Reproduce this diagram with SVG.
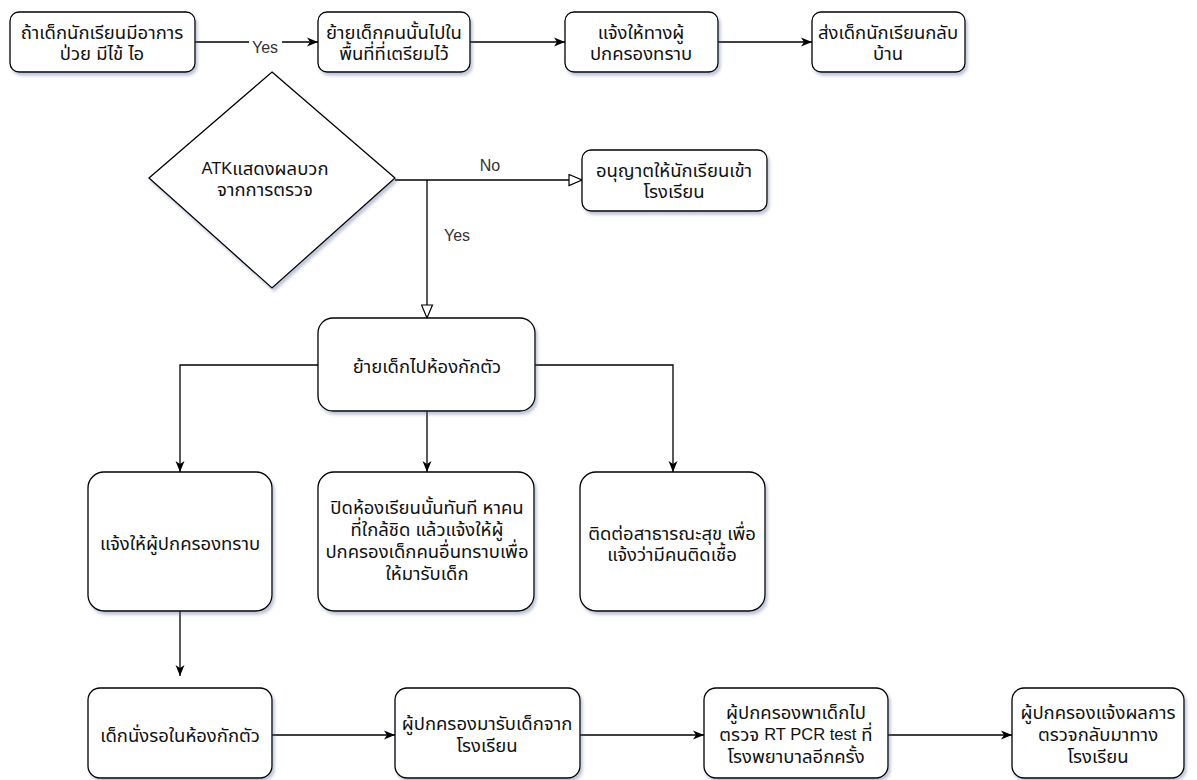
<svg xmlns="http://www.w3.org/2000/svg" width="1197" height="780" viewBox="0 0 1197 780">
<style>
.box{fill:#fff;stroke:#000;stroke-width:1.3;filter:url(#sh)}
.t{font-family:"Liberation Sans","Noto Sans Thai","Noto Sans",sans-serif;font-size:18.5px;fill:#111;text-anchor:middle;dominant-baseline:central}
.lat{font-size:16.5px}
.e{fill:none;stroke:#000;stroke-width:1.3}
.lbl{font-family:"Liberation Sans","Noto Sans",sans-serif;font-size:16px;fill:#333;text-anchor:middle;dominant-baseline:central}
</style>
<defs>
<filter id="sh" x="-10%" y="-10%" width="130%" height="130%">
<feDropShadow dx="2" dy="3" stdDeviation="1.6" flood-color="#4a5a88" flood-opacity="0.35"/>
</filter>
<marker id="arr" markerWidth="12" markerHeight="10" refX="11" refY="5" orient="auto" markerUnits="userSpaceOnUse">
<path d="M0,0.5 L11,5 L0,9.5 L3,5 Z" fill="#000"/>
</marker>
<marker id="tri" markerWidth="15" markerHeight="13" refX="14" refY="6.5" orient="auto" markerUnits="userSpaceOnUse">
<path d="M1,1 L14,6.5 L1,12 Z" fill="#fff" stroke="#000" stroke-width="1.2"/>
</marker>
</defs>

<g id="connectors">
<path class="e" d="M195,42 H318" marker-end="url(#arr)"/>
<path class="e" d="M470,42 H565" marker-end="url(#arr)"/>
<path class="e" d="M718,42 H812" marker-end="url(#arr)"/>
<path class="e" d="M395,180 H582" marker-end="url(#tri)"/>
<path class="e" d="M427,180 V318" marker-end="url(#tri)"/>
<path class="e" d="M318,365 H180 V472" marker-end="url(#arr)"/>
<path class="e" d="M427,411 V472" marker-end="url(#arr)"/>
<path class="e" d="M535,365 H673 V472" marker-end="url(#arr)"/>
<path class="e" d="M180,611 V676" marker-end="url(#arr)"/>
<path class="e" d="M272,735 H395" marker-end="url(#arr)"/>
<path class="e" d="M580,735 H704" marker-end="url(#arr)"/>
<path class="e" d="M888,735 H1012" marker-end="url(#arr)"/>
<rect x="249" y="37" width="33" height="19" fill="#fff"/>
<text class="lbl" x="265" y="47">Yes</text>
<text class="lbl" x="490" y="165">No</text>
<text class="lbl" x="457" y="235">Yes</text>
</g>

<g id="n1">
<rect class="box" x="10" y="12" width="185" height="60" rx="9"/>
<text class="t" x="102" y="32">ถ้าเด็กนักเรียนมีอาการ</text>
<text class="t" x="102" y="53">ป่วย มีไข้ ไอ</text>
</g>
<g id="n2">
<rect class="box" x="318" y="12" width="152" height="60" rx="9"/>
<text class="t" x="394" y="32">ย้ายเด็กคนนั้นไปใน</text>
<text class="t" x="394" y="53">พื้นที่ที่เตรียมไว้</text>
</g>
<g id="n3">
<rect class="box" x="565" y="12" width="153" height="60" rx="9"/>
<text class="t" x="641" y="32">แจ้งให้ทางผู้</text>
<text class="t" x="641" y="53">ปกครองทราบ</text>
</g>
<g id="n4">
<rect class="box" x="812" y="12" width="153" height="60" rx="9"/>
<text class="t" x="888" y="32">ส่งเด็กนักเรียนกลับ</text>
<text class="t" x="888" y="53">บ้าน</text>
</g>

<g id="n5">
<polygon class="box" points="272,72 395,178 272,288 149,178"/>
<text class="t" x="265" y="168"><tspan class="lat">ATK</tspan>แสดงผลบวก</text>
<text class="t" x="265" y="189">จากการตรวจ</text>
</g>
<g id="n6">
<rect class="box" x="582" y="150" width="185" height="61" rx="9"/>
<text class="t" x="674" y="170">อนุญาตให้นักเรียนเข้า</text>
<text class="t" x="674" y="191">โรงเรียน</text>
</g>

<g id="n7">
<rect class="box" x="318" y="318" width="217" height="93" rx="15"/>
<text class="t" x="427" y="366">ย้ายเด็กไปห้องกักตัว</text>
</g>

<g id="n8">
<rect class="box" x="88" y="472" width="184" height="139" rx="16"/>
<text class="t" x="180" y="543">แจ้งให้ผู้ปกครองทราบ</text>
</g>
<g id="n9">
<rect class="box" x="318" y="472" width="216" height="139" rx="16"/>
<text class="t" x="427" y="507">ปิดห้องเรียนนั้นทันที หาคน</text>
<text class="t" x="427" y="529">ที่ใกล้ชิด แล้วแจ้งให้ผู้</text>
<text class="t" x="427" y="551">ปกครองเด็กคนอื่นทราบเพื่อ</text>
<text class="t" x="427" y="573">ให้มารับเด็ก</text>
</g>
<g id="n10">
<rect class="box" x="580" y="472" width="185" height="139" rx="16"/>
<text class="t" x="672" y="533">ติดต่อสาธารณะสุข เพื่อ</text>
<text class="t" x="672" y="554">แจ้งว่ามีคนติดเชื้อ</text>
</g>

<g id="n11">
<rect class="box" x="88" y="688" width="184" height="90" rx="12"/>
<text class="t" x="180" y="735">เด็กนั่งรอในห้องกักตัว</text>
</g>
<g id="n12">
<rect class="box" x="395" y="688" width="185" height="90" rx="12"/>
<text class="t" x="487" y="723">ผู้ปกครองมารับเด็กจาก</text>
<text class="t" x="487" y="745">โรงเรียน</text>
</g>
<g id="n13">
<rect class="box" x="704" y="688" width="184" height="90" rx="12"/>
<text class="t" x="796" y="712">ผู้ปกครองพาเด็กไป</text>
<text class="t" x="796" y="734">ตรวจ <tspan class="lat">RT PCR test</tspan> ที่</text>
<text class="t" x="796" y="756">โรงพยาบาลอีกครั้ง</text>
</g>
<g id="n14">
<rect class="box" x="1012" y="688" width="172" height="90" rx="12"/>
<text class="t" x="1098" y="712">ผู้ปกครองแจ้งผลการ</text>
<text class="t" x="1098" y="734">ตรวจกลับมาทาง</text>
<text class="t" x="1098" y="756">โรงเรียน</text>
</g>
</svg>
